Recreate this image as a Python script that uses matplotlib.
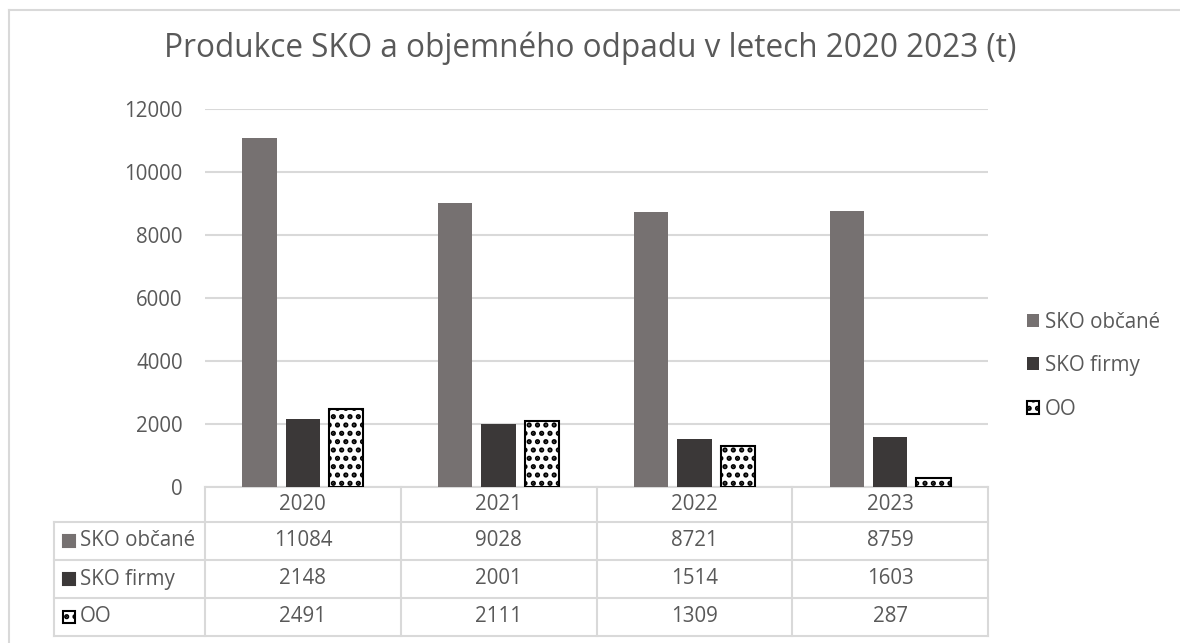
import matplotlib.pyplot as plt
from matplotlib.lines import Line2D
import matplotlib.transforms as mtrans

plt.rcParams['font.family'] = ['Open Sans', 'DejaVu Sans']
plt.rcParams['hatch.linewidth'] = 2.5
plt.rcParams['hatch.color'] = 'black'

years = ['2020', '2021', '2022', '2023']
series = ['SKO občané', 'SKO firmy', 'OO']
sko_obcane = [11084, 9028, 8721, 8759]
sko_firmy = [2148, 2001, 1514, 1603]
oo = [2491, 2111, 1309, 287]
values = [sko_obcane, sko_firmy, oo]

text_c = '#595959'
grid_c = '#d9d9d9'
fs = 14.8

W, H = 1180, 643
fig = plt.figure(figsize=(W / 100, H / 100), dpi=100)

# outer chart frame (goes off the right and bottom edges)
fig.add_artist(Line2D([9 / W, 1], [1 - 10 / H, 1 - 10 / H], color=grid_c, lw=1.5))
fig.add_artist(Line2D([9 / W, 9 / W], [0, 1 - 10 / H], color=grid_c, lw=1.5))

ax = fig.add_axes([205 / W, (H - 487) / H, 783 / W, 378 / H])

x = list(range(len(years)))
step = 0.222
width = 0.175
styles = [dict(color='#767171'),
          dict(color='#3b3838'),
          dict(facecolor='white', edgecolor='black', hatch='..', linewidth=1.5)]
bars = []
for j, (name, vals) in enumerate(zip(series, values)):
    pos = [i + (j - 1) * step for i in x]
    b = ax.bar(pos, vals, width, label=name, zorder=3, **styles[j])
    bars.append(b)

ax.set_xlim(-0.5, 3.5)
ax.set_ylim(0, 12000)
ax.set_yticks(range(0, 12001, 2000))
ax.tick_params(axis='y', length=0, pad=16, labelsize=fs, labelcolor=text_c)
ax.set_xticks([])
ax.grid(axis='y', color=grid_c, lw=1.5, zorder=0)
for s in ax.spines.values():
    s.set_visible(False)

fig.text(590 / W, 1 - 48 / H, 'Produkce SKO a objemného odpadu v letech 2020 2023 (t)',
         ha='center', va='center', fontsize=22.7, color=text_c)

# data table under the axis
tr = mtrans.blended_transform_factory(ax.transData, ax.transAxes)
rows_px = [487, 522, 560, 598, 636]
ry = [(487 - p) / 378 for p in rows_px]
lab_left = -0.5 - 151 / 195.75
kw = dict(color=grid_c, lw=1.5, transform=tr, clip_on=False)
ax.add_line(Line2D([-0.5, 3.5], [ry[0], ry[0]], **kw))
for yy in ry[1:]:
    ax.add_line(Line2D([lab_left, 3.5], [yy, yy], **kw))
for xx in [-0.5, 0.5, 1.5, 2.5, 3.5]:
    ax.add_line(Line2D([xx, xx], [ry[0], ry[-1]], **kw))
ax.add_line(Line2D([lab_left, lab_left], [ry[1], ry[-1]], **kw))

for i, yr in enumerate(years):
    ax.text(i, (ry[0] + ry[1]) / 2, yr, transform=tr, ha='center', va='center',
            fontsize=fs, color=text_c)
for j, (name, vals) in enumerate(zip(series, values)):
    yc = (ry[j + 1] + ry[j + 2]) / 2
    for i, v in enumerate(vals):
        ax.text(i, yc, str(v), transform=tr, ha='center', va='center',
                fontsize=fs, color=text_c)
    ax.text(lab_left + 26 / 195.75, yc, name, transform=tr, ha='left',
            va='center', fontsize=fs, color=text_c)
    st = styles[j]
    fc = st.get('facecolor', st.get('color'))
    ec = st.get('edgecolor', st.get('color'))
    ax.add_patch(plt.Rectangle((lab_left + 9 / 195.75, yc - 6 / 378), 12 / 195.75, 12 / 378,
                               transform=tr, clip_on=False, facecolor=fc, edgecolor=ec,
                               hatch=st.get('hatch'), lw=1.5))

leg = ax.legend(handles=bars, loc='upper left', bbox_to_anchor=(1008 / W, 1 - 293 / H),
                bbox_transform=fig.transFigure, frameon=False, fontsize=fs,
                handlelength=0.6, handleheight=0.6, handletextpad=0.3,
                labelspacing=1.1)
for t in leg.get_texts():
    t.set_color(text_c)

fig.savefig('out.png', dpi=100)
